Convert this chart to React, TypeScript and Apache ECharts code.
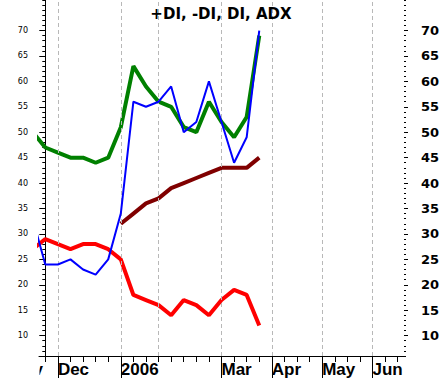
import React, { useEffect, useRef } from "react";
import * as echarts from "echarts";

// week index (weekly bars), -1 is a bar just before the visible window
const weekIndex = [-1, 0, 1, 2, 3, 4, 5, 6, 7, 8, 9, 10, 11, 12, 13, 14, 15, 16, 17];
const plusDI = [50, 47, 46, 45, 45, 44, 45, 51, 63, 59, 56, 55, 51, 50, 56, 52, 49, 53, 69];
const diLine = [33, 24, 24, 25, 23, 22, 25, 34, 56, 55, 56, 59, 50, 52, 60, 52, 44, 49, 70];
const minusDI = [27, 29, 28, 27, 28, 28, 27, 25, 18, 17, 16, 14, 17, 16, 14, 17, 19, 18, 12];
const adx: (number | null)[] = [null, null, null, null, null, null, null, 32, 34, 36, 37, 39, 40, 41, 42, 43, 43, 43, 45];

const monthTickIndex = [1, 6, 14, 18, 22, 26];
const monthLabels = ["Dec", "2006", "Mar", "Apr", "May", "Jun"];
const gridLineIndex = [1, 6, 9, 14, 18, 22, 26];
const weekTicks = Array.from({ length: 29 }, (_, i) => i);
const yMajor = [10, 15, 20, 25, 30, 35, 40, 45, 50, 55, 60, 65, 70];
const titleText = "+DI, -DI, DI, ADX";

function pairs(vals: (number | null)[]) {
  return weekIndex.map((x, i) => [x, vals[i]]);
}

export default function App() {
  const ref = useRef<HTMLDivElement>(null);
  useEffect(() => {
    if (!ref.current) return;
    const chart = echarts.init(ref.current, null, { renderer: "svg" });
    const xFont = { fontFamily: "Liberation Sans", fontWeight: "bold" as const, fontSize: 17 };
    const yMin = 6;
    const yMax = 76;
    chart.setOption({
      animation: false,
      backgroundColor: "#ffffff",
      grid: { left: 39, right: 39, top: 0, bottom: 25, containLabel: false },
      xAxis: [
        {
          type: "value",
          min: -0.5,
          max: 28.5,
          position: "bottom",
          axisLine: { show: true, lineStyle: { color: "#000", width: 1 } },
          axisTick: { show: true, customValues: weekTicks, length: 6, lineStyle: { color: "#000" } },
          axisLabel: {
            show: true,
            customValues: monthTickIndex,
            formatter: (v: number) => monthLabels[monthTickIndex.indexOf(Math.round(v))] ?? "",
            align: "left",
            margin: 5,
            color: "#000",
            ...xFont,
          },
          splitLine: { show: false },
        },
        {
          type: "value",
          min: -0.5,
          max: 28.5,
          position: "bottom",
          axisLine: { show: false },
          axisTick: { show: true, customValues: monthTickIndex, length: 22, lineStyle: { color: "#000" } },
          axisLabel: { show: false },
          splitLine: { show: false },
        },
      ],
      yAxis: [
        {
          type: "value",
          min: yMin,
          max: yMax,
          position: "left",
          axisLine: { show: true, lineStyle: { color: "#000" } },
          axisTick: { show: true, customValues: yMajor, length: 6, lineStyle: { color: "#000" } },
          axisLabel: {
            show: true,
            customValues: yMajor,
            fontFamily: "DejaVu Sans",
            fontSize: 8,
            color: "#000",
            margin: 11,
          },
          splitLine: { show: false },
        },
        {
          type: "value",
          min: yMin,
          max: yMax,
          interval: 1,
          position: "left",
          axisLine: { show: false },
          axisTick: { show: true, length: 3, lineStyle: { color: "#000" } },
          axisLabel: { show: false },
          splitLine: { show: false },
        },
        {
          type: "value",
          min: yMin,
          max: yMax,
          position: "right",
          axisLine: { show: false },
          axisTick: { show: true, customValues: yMajor, length: 4, lineStyle: { color: "#000" } },
          axisLabel: {
            show: true,
            customValues: yMajor,
            fontFamily: "DejaVu Sans",
            fontWeight: "bold",
            fontSize: 13,
            color: "#000",
            margin: 17,
          },
          splitLine: { show: false },
        },
        {
          type: "value",
          min: yMin,
          max: yMax,
          interval: 1,
          position: "right",
          axisLine: { show: false },
          axisTick: { show: true, length: 2, lineStyle: { color: "#000" } },
          axisLabel: { show: false },
          splitLine: { show: false },
        },
      ],
      series: [
        {
          type: "line",
          data: [],
          z: 1,
          silent: true,
          markLine: {
            silent: true,
            symbol: "none",
            label: { show: false },
            lineStyle: { color: "#b8b8b8", type: [4, 3], width: 1 },
            data: gridLineIndex.map((x) => ({ xAxis: x })),
          },
        },
        {
          name: "+DI",
          type: "line",
          data: pairs(plusDI),
          showSymbol: false,
          lineStyle: { color: "#008000", width: 4 },
          itemStyle: { color: "#008000" },
          z: 2,
        },
        {
          name: "ADX",
          type: "line",
          data: pairs(adx),
          showSymbol: false,
          connectNulls: false,
          lineStyle: { color: "#800000", width: 4 },
          itemStyle: { color: "#800000" },
          z: 3,
        },
        {
          name: "-DI",
          type: "line",
          data: pairs(minusDI),
          showSymbol: false,
          lineStyle: { color: "#ff0000", width: 4 },
          itemStyle: { color: "#ff0000" },
          z: 4,
        },
        {
          name: "DI",
          type: "line",
          data: pairs(diLine),
          showSymbol: false,
          lineStyle: { color: "#0000ff", width: 2 },
          itemStyle: { color: "#0000ff" },
          z: 5,
        },
      ],
      graphic: {
        elements: [
          {
            type: "text",
            x: 43,
            y: 361,
            z: 100,
            style: {
              text: "Nov",
              fill: "#000",
              font: "bold 17px 'Liberation Sans'",
              textAlign: "right",
              textVerticalAlign: "top",
            },
          },
          {
            type: "rect",
            z: 101,
            shape: { x: 0, y: 357, width: 39.5, height: 24 },
            style: { fill: "#ffffff" },
          },
          {
            type: "rect",
            z: 101,
            shape: { x: 404.5, y: 357, width: 39, height: 24 },
            style: { fill: "#ffffff" },
          },
          {
            type: "text",
            x: 221,
            y: 14,
            z: 100,
            style: {
              text: titleText,
              fill: "#000",
              font: "bold 15px 'DejaVu Sans'",
              textAlign: "center",
              textVerticalAlign: "middle",
            },
          },
        ],
      },
    });
    return () => chart.dispose();
  }, []);
  return (
    <div
      ref={ref}
      style={{ position: "fixed", left: 0, top: 0, width: 443, height: 381, background: "#fff" }}
    />
  );
}
